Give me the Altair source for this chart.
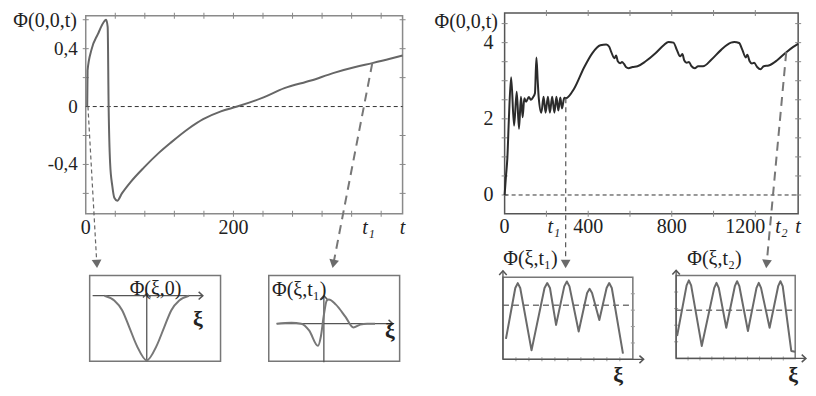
import math
import altair as alt
import pandas as pd

# ---------------- values ----------------
# left panel: Phi(0,0,t), short time
left_t = [2, 2.5, 7.6, 16.4, 25.3, 27.6, 29.7, 31, 33, 36, 38.7, 42.7, 49, 61, 79, 99, 115,
          139, 159, 183, 205, 239, 269, 305, 336, 365, 388, 412, 429]
left_phi = [0, 0.25, 0.39, 0.50, 0.59, 0.60, 0.55, 0.0, -0.39, -0.55, -0.63, -0.65, -0.60,
            -0.52, -0.42, -0.32, -0.25, -0.153, -0.087, -0.033, 0, 0.06, 0.127, 0.18,
            0.233, 0.273, 0.30, 0.33, 0.353]

# right panel: Phi(0,0,t), long time
right_t = [0, 6.1, 13.2, 20.3, 31.1, 45.2, 57.9, 68.8, 78.2, 86.2, 94.2, 102.7, 115.9, 126.2,
           136.6, 145.1, 152.1, 158.3, 163, 175.7, 186.5, 196, 207.3, 216.7, 227.5, 238.3,
           247.8, 257.2, 266.6, 274.6, 285.4, 293.5, 332.5, 379.7, 419.2, 458.3, 486.6, 500.7,
           510.1, 525.7, 533.6, 541.7, 552.5, 562, 571.4, 580.8, 593.5, 612.3, 635.9, 675, 722,
           761.2, 784.7, 808.3, 824.3, 839.9, 850.7, 860.1, 871.4, 882.2, 895, 910.5, 926,
           949.6, 989.2, 1036.3, 1083.4, 1099, 1122.5, 1138, 1154, 1161.6, 1172.9, 1183.7,
           1194.5, 1208.7, 1224.7, 1240.2, 1263.8, 1302.9, 1342.4, 1381.5, 1405]
right_phi = [0, 0.47, 0.98, 1.99, 3.09, 1.82, 2.71, 1.74, 2.58, 2.04, 2.54, 2.45, 2.57, 2.50,
             2.57, 2.67, 3.61, 3.0, 2.57, 2.16, 2.58, 2.16, 2.58, 2.16, 2.58, 2.16, 2.58, 2.22,
             2.56, 2.27, 2.55, 2.54, 2.79, 3.34, 3.72, 3.93, 3.95, 3.89, 3.76, 3.59, 3.66, 3.51,
             3.46, 3.49, 3.44, 3.36, 3.33, 3.36, 3.38, 3.51, 3.72, 3.93, 4.02, 4.0, 3.81, 3.64,
             3.70, 3.53, 3.47, 3.49, 3.38, 3.33, 3.38, 3.38, 3.55, 3.81, 4.0, 4.02, 3.99, 3.81,
             3.61, 3.68, 3.51, 3.45, 3.47, 3.36, 3.30, 3.38, 3.40, 3.53, 3.72, 3.89, 3.97]

# insets: spatial profiles
a_xi = [-1.72, -1.32, -1.0, -0.72, -0.4, 0, 0.4, 0.72, 1.0, 1.32, 1.72]
a_phi = [0, -0.2, -0.6, -1.28, -2.08, -2.68, -2.08, -1.28, -0.6, -0.2, 0]
b_xi = [-1.92, -1.32, -0.92, -0.6, -0.24, -0.12, 0, 0.12, 0.2, 0.48, 0.88, 1.2, 1.48, 1.76, 2.08]
b_phi = [0, 0.04, 0, -0.28, -0.92, -0.52, 0.36, 0.96, 1.0, 0.8, 0.28, -0.16, -0.04, 0, 0]
c_xi = [0.23, 0.95, 1.14, 1.33, 2.2, 3.2, 3.41, 3.62, 4.09, 4.72, 4.92, 5.12, 5.83, 6.48,
        6.67, 6.86, 7.42, 7.98, 8.18, 8.38, 9.24]
c_phi = [0.25, 0.87, 0.93, 0.87, 0.11, 0.87, 0.93, 0.87, 0.42, 0.89, 0.95, 0.89, 0.34, 0.81,
         0.86, 0.81, 0.48, 0.87, 0.93, 0.87, 0.07]
d_xi = [0.08, 0.88, 1.07, 1.26, 2.15, 3.2, 3.39, 3.58, 4.21, 4.93, 5.12, 5.31, 6.03, 6.75,
        6.94, 7.13, 7.85, 8.57, 8.76, 8.95, 9.67, 10]
d_phi = [0.27, 0.88, 0.94, 0.88, 0.15, 0.85, 0.91, 0.85, 0.37, 0.87, 0.93, 0.87, 0.33, 0.85,
         0.91, 0.85, 0.37, 0.87, 0.93, 0.87, 0.09, 0.08]
c_mean = 0.66
d_mean = 0.58

left_yticks = [0.4, 0, -0.4]
left_ylabels = ["0,4", "0", "-0,4"]
left_xticks = [0, 200]
left_xlabels = ["0", "200"]
right_yticks = [4, 2, 0]
right_ylabels = ["4", "2", "0"]
right_xticks = [0, 400, 800, 1200]
right_xlabels = ["0", "400", "800", "1200"]
t1_left = 383
t1_right = 235.5
t2_right = 1325

# ---------------- layout (pixel placement of each panel) ----------------
PANELS = {
    'L': dict(xd=[0, 429], yd=[-0.74, 0.627], xpx=[81, 403], ypx=[213, 8]),
    'R': dict(xd=[0, 1405], yd=[-0.49, 4.78], xpx=[506.7, 805], ypx=[213, 5]),
    'A': dict(xd=[-2.32, 3.0], yd=[-2.72, 0.84], xpx=[85, 218], ypx=[366, 277]),
    'B': dict(xd=[-2.24, 3.08], yd=[-1.56, 2.0], xpx=[267, 400], ypx=[366, 277]),
    'C': dict(xd=[0, 10], yd=[0, 1], xpx=[505, 637], ypx=[364, 279]),
    'D': dict(xd=[0, 10], yd=[0, 1], xpx=[681, 802], ypx=[363, 277]),
}


def cx(x):
    return (x - 2) * 0.984


def cy(y):
    return 3 + (y - 3) * 0.965


FONT = "Liberation Serif, DejaVu Serif"


def XY(p, x='x', y='y'):
    d = PANELS[p]
    xs = alt.Scale(domain=d['xd'], range=[cx(d['xpx'][0]), cx(d['xpx'][1])], nice=False, zero=False)
    ys = alt.Scale(domain=d['yd'], range=[cy(d['ypx'][0]), cy(d['ypx'][1])], nice=False, zero=False)
    return dict(x=alt.X(f'{x}:Q', scale=xs, axis=None), y=alt.Y(f'{y}:Q', scale=ys, axis=None))


def curve(p, xs, ys, color, width, interp='monotone'):
    df = pd.DataFrame({'x': xs, 'y': ys, 'i': list(range(len(xs)))})
    return alt.Chart(df).mark_line(color=color, strokeWidth=width, interpolate=interp,
                                   strokeJoin='round').encode(order='i:Q', **XY(p))


def seg(p, x1, y1, x2, y2, color, width, dash=None):
    df = pd.DataFrame({'x': [x1], 'y': [y1], 'x2': [x2], 'y2': [y2]})
    kw = dict(color=color, strokeWidth=width)
    if dash:
        kw['strokeDash'] = dash
    return alt.Chart(df).mark_rule(**kw).encode(x2='x2:Q', y2='y2:Q', **XY(p))


def frame(p, color, width):
    d = PANELS[p]
    df = pd.DataFrame({'x': [d['xd'][0]], 'x2': [d['xd'][1]], 'y': [d['yd'][0]], 'y2': [d['yd'][1]]})
    return alt.Chart(df).mark_rect(fillOpacity=0, stroke=color, strokeWidth=width).encode(
        x2='x2:Q', y2='y2:Q', **XY(p))


def text(p, xs, ys, labels, size, **kw):
    df = pd.DataFrame({'x': xs, 'y': ys, 'label': labels})
    base = dict(font=FONT, fontSize=size, color='#222', baseline='middle')
    base.update(kw)
    return alt.Chart(df).mark_text(**base).encode(text='label:N', **XY(p))


def ticks(p, xs, ys, orient, color='#888', size=6):
    df = pd.DataFrame({'x': xs, 'y': ys})
    return alt.Chart(df).mark_tick(orient=orient, size=size, thickness=1, color=color,
                                   opacity=1).encode(**XY(p))


CHEV_RIGHT = "M -1 -0.9 L 0 0 L -1 0.9"
CHEV_UP = "M -0.9 1 L 0 0 L 0.9 1"


def chevron(p, x, y, shape, color='#555'):
    df = pd.DataFrame({'x': [x], 'y': [y]})
    return alt.Chart(df).mark_point(shape=shape, filled=False, size=70, strokeWidth=1.5,
                                    color=color, opacity=1).encode(**XY(p))


def px_angle(p, x1, y1, x2, y2):
    d = PANELS[p]
    sx = (cx(d['xpx'][1]) - cx(d['xpx'][0])) / (d['xd'][1] - d['xd'][0])
    sy = (cy(d['ypx'][1]) - cy(d['ypx'][0])) / (d['yd'][1] - d['yd'][0])
    dx = (x2 - x1) * sx
    dy = (y2 - y1) * sy
    return (-math.degrees(math.atan2(dx, dy))) % 360


def arrow(p, x1, y1, x2, y2, color, width, dash):
    ln = seg(p, x1, y1, x2, y2, color, width, dash)
    ang = px_angle(p, x1, y1, x2, y2)
    df = pd.DataFrame({'x': [x2], 'y': [y2]})
    hd = alt.Chart(df).mark_point(shape='triangle-down', filled=True, size=95, angle=ang,
                                  color='#6a6a6a', opacity=1).encode(**XY(p))
    return [ln, hd]


layers = []

# ---------- left main panel ----------
L = PANELS['L']
layers.append(frame('L', '#8a8a8a', 1.5))
xt = [40 * k for k in range(1, 11)]
layers.append(ticks('L', xt, [L['yd'][0]] * len(xt), 'vertical'))
layers.append(ticks('L', xt, [L['yd'][1]] * len(xt), 'vertical'))
yt = [-0.6, -0.4, -0.2, 0.2, 0.4, 0.6]
layers.append(ticks('L', [L['xd'][0]] * len(yt), yt, 'horizontal'))
layers.append(ticks('L', [L['xd'][1]] * len(yt), yt, 'horizontal'))
layers.append(seg('L', L['xd'][0], 0, L['xd'][1], 0, '#333', 1, [4, 3]))
layers.append(curve('L', left_t, left_phi, '#666', 2))
layers.append(text('L', [0] * 3, left_yticks, left_ylabels, 19, align='right', dx=-8))
layers.append(text('L', left_xticks, [-0.84] * 2, left_xlabels, 20, align='center'))
layers.append(text('L', [t1_left], [-0.84], ["t₁"], 20, align='center', fontStyle='italic'))
layers.append(text('L', [429], [-0.84], ["t"], 20, align='center', fontStyle='italic'))
layers.append(text('L', [-12], [0.593], ["Φ(0,0,t)"], 20, align='right'))
layers += arrow('L', 3, 0, 15, -1.087, '#666', 1.2, [4, 3])
layers += arrow('L', 388, 0.30, 335.3, -1.087, '#777', 2, [9, 6])

# ---------- right main panel ----------
R = PANELS['R']
layers.append(frame('R', '#555', 1.5))
xt = [200 * k for k in range(1, 7)]
layers.append(ticks('R', xt, [R['yd'][0]] * len(xt), 'vertical'))
layers.append(ticks('R', xt, [R['yd'][1]] * len(xt), 'vertical'))
yt = [0.5 * k for k in range(0, 10)]
layers.append(ticks('R', [R['xd'][0]] * len(yt), yt, 'horizontal'))
layers.append(ticks('R', [R['xd'][1]] * len(yt), yt, 'horizontal'))
layers.append(seg('R', R['xd'][0], 0, R['xd'][1], 0, '#333', 1, [4, 3]))
layers.append(curve('R', right_t, right_phi, '#2b2b2b', 2))
layers.append(text('R', [0] * 3, right_yticks, right_ylabels, 20, align='right', dx=-11))
layers.append(text('R', right_xticks[:3], [-0.85] * 3, right_xlabels[:3], 20, align='center'))
layers.append(text('R', [1200], [-0.85], ["1200"], 20, align='center', dx=-10))
layers.append(text('R', [t1_right], [-0.85], ["t₁"], 20, align='center', fontStyle='italic'))
layers.append(text('R', [t2_right], [-0.85], ["t₂"], 20, align='center', fontStyle='italic'))
layers.append(text('R', [1405], [-0.85], ["t"], 20, align='center', fontStyle='italic'))
layers.append(text('R', [-31.6], [4.55], ["Φ(0,0,t)"], 20, align='right'))
layers += arrow('R', 293, 2.54, 292, -1.81, '#555', 1.2, [5, 4])
layers += arrow('R', 1348, 3.75, 1254, -1.81, '#777', 2, [9, 6])

# ---------- inset A: Phi(xi,0) ----------
layers.append(frame('A', '#777', 1.5))
layers.append(seg('A', -2.2, 0, 2.28, 0, '#555', 1.3))
layers.append(chevron('A', 2.28, 0, CHEV_RIGHT))
layers.append(seg('A', 0, -2.72, 0, 0.1, '#555', 1.3))
layers.append(chevron('A', 0, 0.1, CHEV_UP))
layers.append(curve('A', a_xi, a_phi, '#777', 2))
layers.append(text('A', [0.36], [0.28], ["Φ(ξ,0)"], 20, align='center'))
layers.append(text('A', [2.08], [-0.96], ["ξ"], 22, align='center', fontWeight='bold'))

# ---------- inset B: Phi(xi,t1) ----------
layers.append(frame('B', '#777', 1.5))
layers.append(seg('B', -1.92, 0, 2.8, 0, '#555', 1.3))
layers.append(chevron('B', 2.8, 0, CHEV_RIGHT))
layers.append(seg('B', 0, -1.6, 0, 1.16, '#555', 1.3))
layers.append(chevron('B', 0, 1.16, CHEV_UP))
layers.append(curve('B', b_xi, b_phi, '#777', 2))
layers.append(text('B', [-1.0], [1.4], ["Φ(ξ,t₁)"], 20, align='center'))
layers.append(text('B', [2.68], [-0.3], ["ξ"], 22, align='center', fontWeight='bold'))

# ---------- inset C: Phi(xi,t1), long time ----------
layers.append(frame('C', '#777', 1.5))
layers.append(ticks('C', [k for k in range(1, 10)], [0] * 9, 'vertical', '#999', 4))
layers.append(ticks('C', [10] * 4, [0.2, 0.4, 0.6, 0.8], 'horizontal', '#999', 4))
layers.append(seg('C', 0, c_mean, 10, c_mean, '#777', 1.3, [6, 4]))
layers.append(seg('C', 0, 0, 10.83, 0, '#555', 1.3))
layers.append(chevron('C', 10.83, 0, CHEV_RIGHT))
layers.append(seg('C', 0, 0, 0, 1.08, '#555', 1.3))
layers.append(chevron('C', 0, 1.08, CHEV_UP))
layers.append(curve('C', c_xi, c_phi, '#6a6a6a', 2, 'linear'))
layers.append(text('C', [2.12], [1.22], ["Φ(ξ,t₁)"], 20, align='center'))
layers.append(text('C', [8.86], [-0.19], ["ξ"], 22, align='center', fontWeight='bold'))

# ---------- inset D: Phi(xi,t2) ----------
layers.append(frame('D', '#777', 1.5))
layers.append(ticks('D', [k for k in range(1, 10)], [0] * 9, 'vertical', '#999', 4))
layers.append(ticks('D', [0] * 4, [0.2, 0.4, 0.6, 0.8], 'horizontal', '#999', 4))
layers.append(seg('D', 0, d_mean, 10, d_mean, '#777', 1.3, [6, 4]))
layers.append(seg('D', 0, 0, 10.9, 0, '#555', 1.3))
layers.append(chevron('D', 10.9, 0, CHEV_RIGHT))
layers.append(seg('D', 0, 0, 0, 1.06, '#555', 1.3))
layers.append(chevron('D', 0, 1.06, CHEV_UP))
layers.append(curve('D', d_xi, d_phi, '#6a6a6a', 2, 'linear'))
layers.append(text('D', [3.22], [1.2], ["Φ(ξ,t₂)"], 20, align='center'))
layers.append(text('D', [9.83], [-0.2], ["ξ"], 22, align='center', fontWeight='bold'))

chart = alt.layer(*layers).resolve_scale(x='independent', y='independent').properties(
    width=800, height=380, autosize=alt.AutoSizeParams(type='none'), padding=0
).configure_view(stroke=None)

chart.save("out.html", embed_options={"renderer": "svg", "actions": False})
